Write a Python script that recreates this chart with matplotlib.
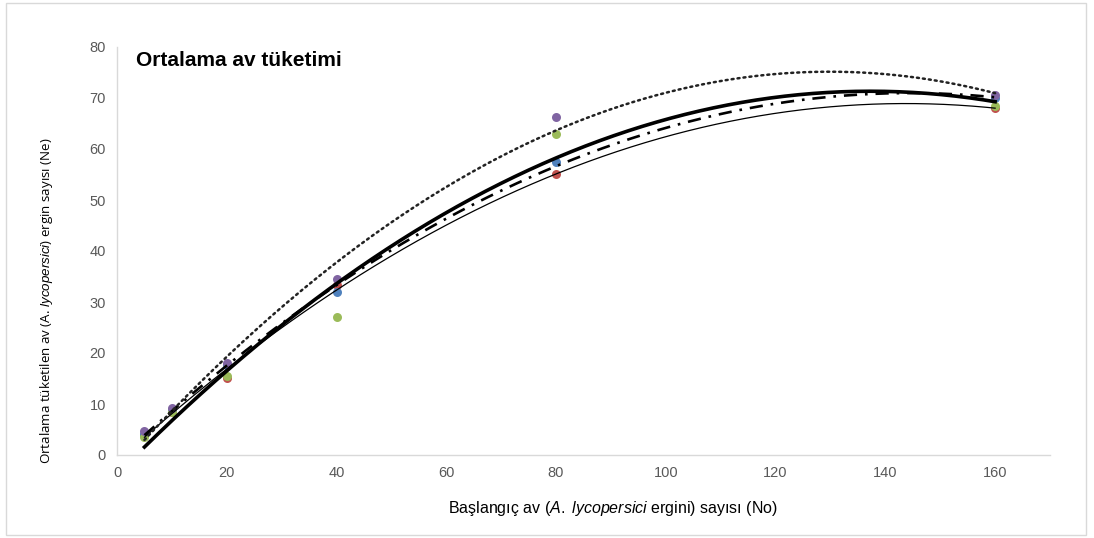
import matplotlib.pyplot as plt
import numpy as np
from matplotlib.patches import Rectangle

# prey densities and mean consumption per series
density = [5, 10, 20, 40, 80, 160]
red_vals = [4.0, 8.5, 15.1, 33.3, 55.0, 68.0]
blue_vals = [4.2, 8.8, 17.6, 32.0, 57.5, 70.0]
green_vals = [3.5, 8.4, 15.5, 27.0, 63.0, 68.5]
purple_vals = [4.7, 9.2, 18.0, 34.5, 66.3, 70.5]

x_ticks = [0, 20, 40, 60, 80, 100, 120, 140, 160]
y_ticks = [0, 10, 20, 30, 40, 50, 60, 70, 80]

plt.rcParams['mathtext.fontset'] = 'custom'
plt.rcParams['mathtext.it'] = 'Liberation Sans:italic'
plt.rcParams['mathtext.rm'] = 'Liberation Sans'

fig = plt.figure(figsize=(10.94, 5.38), dpi=100)
ax = fig.add_axes([117 / 1094, 1 - 455 / 538, (1050 - 117) / 1094, (455 - 47) / 538])

series = [
    (red_vals, '#C0504D', dict(color='black', lw=0.9, ls='-')),
    (blue_vals, '#4F81BD', dict(color='black', lw=1.9, ls=(0, (5, 3, 1, 3)))),
    (green_vals, '#9BBB59', dict(color='black', lw=2.6, ls='-')),
    (purple_vals, '#8064A2', dict(color='#222222', lw=1.8, ls=(0, (0.8, 1.6)), dash_capstyle='round')),
]

xs = np.linspace(density[0], density[-1], 300)
for vals, col, style in series:
    ax.scatter(density, vals, s=42, color=col, zorder=2, linewidths=0)
    coef = np.polyfit(density, vals, 2)
    ax.plot(xs, np.polyval(coef, xs), zorder=3, **style)

ax.set_xlim(0, 170)
ax.set_ylim(0, 80)
ax.set_xticks(x_ticks)
ax.set_yticks(y_ticks)
ax.tick_params(length=0, labelsize=10.5, labelcolor='#595959', pad=8,
               labelfontfamily='Liberation Sans')
for s in ['top', 'right']:
    ax.spines[s].set_visible(False)
for s in ['left', 'bottom']:
    ax.spines[s].set_color('#D9D9D9')
    ax.spines[s].set_linewidth(1)

ax.text(0.02, 0.99, 'Ortalama av tüketimi', transform=ax.transAxes,
        fontsize=15, fontweight='bold', family='Liberation Sans', va='top', ha='left')

fig.text(613 / 1094, 1 - 508 / 538,
         r'Başlangıç av ($\mathit{A.\ lycopersici}$ ergini) sayısı (No)',
         fontsize=11.5, family='Liberation Sans', ha='center', va='center')
fig.text(47 / 1094, 1 - 301 / 538,
         r'Ortalama tüketilen av (A. $\mathit{lycopersici}$) ergin sayısı (Ne)',
         fontsize=9.6, family='Open Sans', ha='center', va='center', rotation=90)

fig.patches.append(Rectangle((6 / 1094, 3 / 538), 1080 / 1094, 532 / 538,
                             transform=fig.transFigure, fill=False,
                             edgecolor='#D9D9D9', lw=1))

fig.savefig('out.png', dpi=100)
